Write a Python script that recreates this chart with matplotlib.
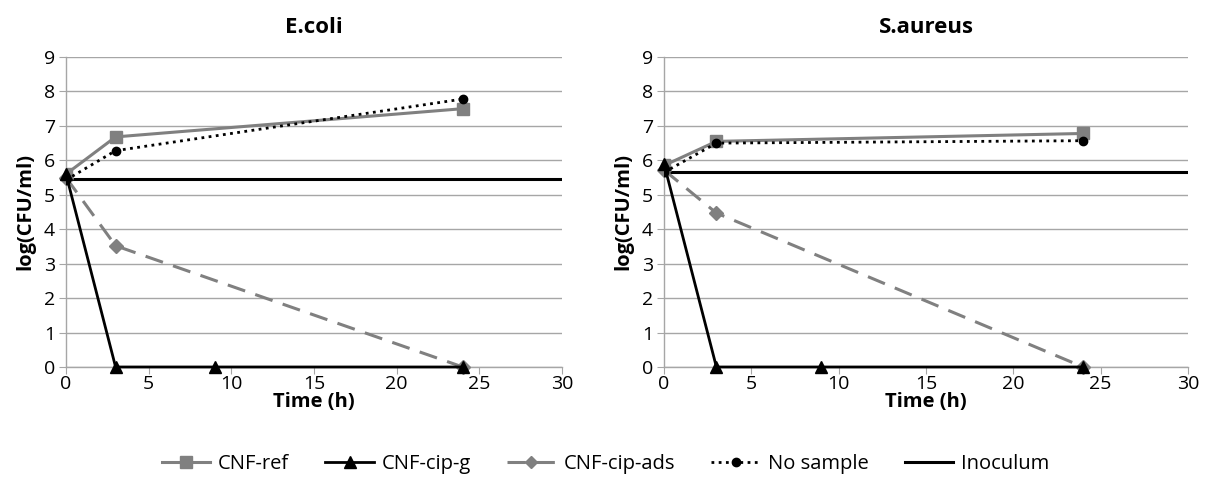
import matplotlib
matplotlib.use("Agg")
import matplotlib.pyplot as plt
from matplotlib.lines import Line2D

plt.rcParams['font.family'] = ['Open Sans', 'DejaVu Sans']

# time points (h)
t_ref = [0, 3, 24]
t_cipg = [0, 3, 9, 24]
t_ads = [0, 3, 24]
t_none = [0, 3, 24]
t_inoc = [0, 30]

# E.coli
ecoli_ref = [5.6, 6.68, 7.5]
ecoli_cipg = [5.6, 0, 0, 0]
ecoli_ads = [5.5, 3.52, 0]
ecoli_none = [5.43, 6.28, 7.78]
ecoli_inoc = [5.45, 5.45]

# S.aureus
saur_ref = [5.85, 6.55, 6.78]
saur_cipg = [5.9, 0, 0, 0]
saur_ads = [5.72, 4.47, 0]
saur_none = [5.65, 6.5, 6.57]
saur_inoc = [5.67, 5.67]

grey = '#808080'
fig = plt.figure(figsize=(12.11, 4.79), dpi=100)
ax1 = fig.add_axes([66/1211, 1-367/479, 496/1211, 310/479])
ax2 = fig.add_axes([664/1211, 1-367/479, 524/1211, 310/479])

panels = [(ax1, 'E.coli', ecoli_ref, ecoli_cipg, ecoli_ads, ecoli_none, ecoli_inoc),
          (ax2, 'S.aureus', saur_ref, saur_cipg, saur_ads, saur_none, saur_inoc)]

for ax, title, ref, cipg, ads, none, inoc in panels:
    ax.plot(t_ref, ref, color=grey, lw=2.2, marker='s', ms=9, zorder=4)
    ax.plot(t_cipg, cipg, color='black', lw=2.0, marker='^', ms=9, zorder=5, clip_on=False)
    ax.plot(t_ads, ads, color=grey, lw=2.2, ls=(0, (6, 3.5)), marker='D', ms=7, zorder=4, clip_on=False)
    ax.plot(t_none, none, color='black', lw=2.0, ls=(0, (1, 1.6)), marker='o', ms=6, zorder=6)
    ax.plot(t_inoc, inoc, color='black', lw=2.2, zorder=3)
    ax.set_xlim(0, 30)
    ax.set_ylim(0, 9)
    ax.set_xticks(range(0, 31, 5))
    ax.set_yticks(range(0, 10))
    ax.grid(axis='y', color='#a6a6a6', lw=1)
    ax.set_axisbelow(True)
    for s in ['top', 'right']:
        ax.spines[s].set_visible(False)
    for s in ['left', 'bottom']:
        ax.spines[s].set_color('#a6a6a6')
        ax.spines[s].set_linewidth(1)
    ax.tick_params(axis='x', direction='out', length=5, color='#a6a6a6', labelsize=14, pad=1)
    ax.tick_params(axis='y', direction='out', length=5, color='#a6a6a6', labelsize=14, pad=3)
    ax.set_title(title, fontsize=16, fontweight='bold', pad=17)
    ax.set_xlabel('Time (h)', fontsize=14.5, fontweight='bold', labelpad=-1)
    ax.set_ylabel('log(CFU/ml)', fontsize=14.5, fontweight='bold', labelpad=6)

handles = [
    Line2D([], [], color=grey, lw=2.2, marker='s', ms=8),
    Line2D([], [], color='black', lw=2.0, marker='^', ms=8),
    Line2D([], [], color=grey, lw=2.2, ls=(0, (6, 3.5)), marker='D', ms=6),
    Line2D([], [], color='black', lw=2.0, ls=(0, (1, 1.6)), marker='o', ms=6),
    Line2D([], [], color='black', lw=2.2),
]
labels = ['CNF-ref', 'CNF-cip-g', 'CNF-cip-ads', 'No sample', 'Inoculum']
fig.legend(handles, labels, loc='center', bbox_to_anchor=(0.5, 1-464/479), ncol=5,
           frameon=False, fontsize=14.5, handlelength=2.4, columnspacing=1.8, handletextpad=0.4)

fig.savefig('out.png', dpi=100)
